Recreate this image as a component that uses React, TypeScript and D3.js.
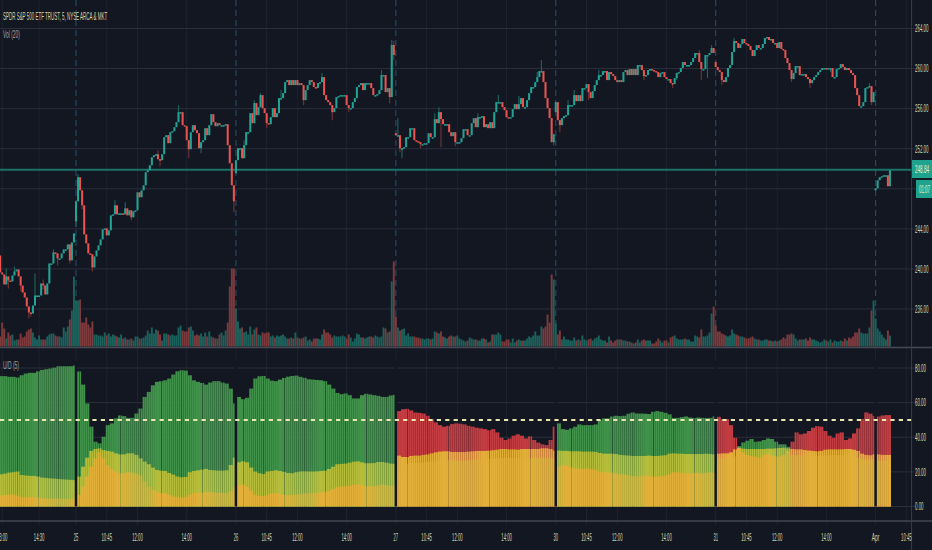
import React from "react";
import * as d3 from "d3";

const WIDTH = 932;
const HEIGHT = 550;

const priceTicks = [264, 260, 256, 252, 248, 244, 240, 236];
const udTicks = [80, 60, 40, 20, 0];
const timeLabels = ["13:00","14:30","25","10:45","12:00","14:00","26","10:45","12:00","14:00","27","10:45","12:00","14:00","30","10:45","12:00","14:00","31","10:45","12:00","14:00","Apr","10:45"];
const timeBars = [1,19,37,52,67,91,115,130,145,169,193,208,223,247,271,286,301,325,349,364,379,403,427,442];
const dayStarts = [37,115,193,271,349,427];
const dayOpens = [244.75,249.55,253.55,255.65,260.65,247.85];
const firstOpen = 241.35;

const closesMar23 = [239.65,239.45,238.45,239.25,238.85,238.75,239.35,239.75,239.95,239.25,238.35,237.65,237.15,236.25,235.65,235.55,236.35,237.35,237.35,237.35,238.55,238.35,237.45,238.55,240.55,240.55,241.65,241.55,241.05,241.05,241.55,241.95,241.95,242.45,240.85,242.65,243.55];
const closesMar25 = [246.75,249.15,247.85,246.35,243.45,242.55,241.55,241.45,240.15,241.25,241.85,242.35,242.95,243.95,244.05,243.35,243.85,245.35,245.45,246.35,245.45,245.55,245.55,245.45,246.05,245.35,245.85,245.15,245.75,245.85,247.65,247.15,247.85,248.35,249.65,249.85,250.35,251.15,251.35,251.45,250.95,250.85,251.45,253.15,253.35,252.55,253.65,253.75,254.15,254.65,255.65,255.65,254.35,254.25,252.85,251.95,253.65,254.35,253.85,253.55,252.05,252.65,252.85,254.05,253.35,254.35,255.45,254.65,254.25,254.55,254.35,254.35,254.35,254.45,252.35,250.55,248.35,246.75];
const closesMar26 = [250.85,252.05,252.05,251.05,252.35,253.65,253.65,255.55,254.55,256.55,255.35,256.15,257.35,256.05,255.55,254.55,254.45,255.15,256.05,255.15,255.55,257.05,257.05,257.55,258.65,258.85,258.35,258.85,258.35,258.85,258.35,258.55,258.35,256.85,257.85,258.35,258.85,258.65,258.15,258.05,258.55,258.65,259.15,257.35,256.85,256.65,256.35,255.65,256.05,257.15,257.25,257.35,257.35,257.35,256.35,256.05,256.05,256.65,257.05,258.15,258.35,258.55,257.85,258.55,258.55,258.55,258.05,257.35,257.35,257.45,257.85,259.35,259.35,257.65,258.05,257.15,262.35,261.35];
const closesMar27 = [253.35,253.35,252.05,252.05,252.15,253.15,253.15,254.05,254.05,252.85,252.75,252.65,252.45,252.45,252.55,252.55,253.55,253.15,253.15,254.95,254.55,255.65,254.95,254.45,254.45,254.45,253.65,253.25,253.65,252.65,252.65,252.65,253.05,253.95,253.95,253.35,253.35,254.55,255.05,254.15,255.15,255.15,255.25,254.15,254.45,254.05,254.65,254.05,255.65,256.65,256.65,256.65,256.15,255.85,255.15,255.05,255.15,255.95,256.45,255.95,256.45,257.05,256.15,256.15,256.85,257.55,258.15,258.15,258.65,259.15,259.75,259.75,258.65,257.05,256.05,255.05,252.65,253.45];
const closesMar30 = [256.65,254.85,254.35,255.05,255.25,255.35,256.35,256.35,256.35,257.35,256.75,257.35,256.75,258.05,258.05,258.45,257.65,257.05,257.75,258.35,258.85,259.35,259.35,259.75,259.75,258.85,259.65,259.45,259.25,258.85,258.65,258.85,258.65,259.65,259.85,259.35,259.95,259.35,259.95,259.35,260.35,260.35,259.85,259.25,259.35,259.85,259.95,259.85,259.75,259.65,259.15,259.55,259.65,259.15,258.95,258.95,258.55,258.45,259.05,259.55,259.65,260.05,260.65,260.35,260.35,260.35,260.65,261.05,261.55,261.55,260.65,259.95,259.95,261.35,261.35,261.55,262.05,261.55];
const closesMar31 = [260.15,259.85,259.65,258.85,258.65,259.15,260.05,260.35,261.65,262.75,262.55,262.05,262.45,262.95,262.55,262.45,262.25,261.85,261.25,261.85,262.35,262.05,262.05,262.45,263.05,263.15,262.85,262.95,262.55,262.55,262.05,262.65,261.95,261.85,261.05,260.55,259.85,258.95,259.55,260.25,260.25,259.35,259.45,259.45,259.15,258.95,258.55,258.85,259.15,259.35,259.65,259.85,260.05,260.05,259.95,260.05,260.05,259.15,259.15,259.95,260.05,260.45,260.15,259.85,260.05,259.85,259.55,259.35,258.05,257.35,256.25,256.25,256.65,258.05,258.15,258.25,256.65,257.65];
const closesApr2 = [248.05,248.85,249.15,249.25,249.35,249.35,248.25,249.85];

const volumes = [10,24,18,8,14,11,12,6,7,7,13,9,10,15,17,18,14,9,7,11,7,7,7,10,12,13,13,11,10,10,9,19,15,20,27,36,70,46,46,47,24,24,29,22,19,25,12,12,11,11,10,14,11,13,10,12,11,10,9,12,8,9,7,7,8,6,10,10,8,8,9,11,16,13,19,13,17,16,12,6,13,13,12,11,12,11,11,19,21,16,15,15,19,20,16,11,12,11,13,10,14,10,15,10,9,8,8,12,14,11,16,24,60,78,78,38,25,18,19,14,15,12,20,12,17,19,12,11,14,13,14,14,10,11,9,11,10,11,12,10,8,8,9,8,14,9,8,8,9,10,6,7,5,8,8,8,7,12,17,14,14,12,9,11,10,10,10,11,10,8,12,9,5,8,13,12,9,9,8,9,10,10,9,11,10,9,10,19,18,14,15,65,85,30,19,16,17,18,11,13,10,10,10,9,9,8,8,7,8,8,7,8,15,14,13,15,10,9,8,10,11,10,10,11,8,7,6,5,6,9,8,7,7,6,6,8,8,7,4,5,12,12,12,14,12,5,5,7,7,4,8,4,6,7,6,6,6,8,10,9,11,15,11,11,20,18,20,32,24,72,67,23,12,16,7,10,7,7,6,6,9,6,7,6,11,7,6,7,8,6,8,9,11,7,6,6,4,10,6,4,6,7,7,7,6,6,5,5,4,3,4,7,4,6,7,6,6,6,3,3,5,8,6,4,6,6,4,9,10,11,8,7,7,7,8,7,7,5,5,11,10,9,17,10,10,11,14,33,40,21,15,15,13,12,11,10,11,17,13,12,11,10,10,9,8,8,9,10,8,7,7,6,6,7,7,6,6,5,6,5,6,7,9,8,12,12,13,12,8,6,7,7,7,8,6,9,7,7,6,5,4,5,7,6,5,7,4,6,5,5,6,5,8,6,9,8,10,14,14,18,14,13,13,13,19,36,46,28,18,15,12,9,7,16,11];

const wickBars =  [3,4,7,10,14,15,17,21,26,28,34,37,38,40,45,56,61,64,77,78,87,92,98,114,119,124,127,130,137,148,157,162,170,186,190,191,192,194,195,196,205,212,214,215,222,233,243,253,262,264,270,273,277,280,287,292,314,328,330,341,342,345,347,352,358,386,395,405,424,425];
const wickHighs = [240.05,0,240.25,0,0,0,239.55,238.95,241.95,0,0,0,249.45,0,0,246.85,246.65,0,251.85,0,256.35,0,0,0,252.85,256.85,257.55,0,257.85,0,259.55,0,0,259.85,0,262.85,262.75,255.05,0,0,0,255.55,256.15,0,0,255.55,257.35,257.25,259.65,260.85,0,0,256.85,257.85,0,259.85,0,0,0,261.85,0,0,262.35,0,263.05,0,0,0,258.55,0];
const wickLows =  [0,238.05,0,237.75,235.05,235.25,0,237.95,0,240.35,240.55,244.15,0,245.95,239.75,0,0,244.85,0,250.25,0,251.05,251.55,245.65,0,0,0,254.05,0,256.35,0,254.85,255.65,0,256.55,0,260.85,0,251.65,251.05,252.05,0,0,252.15,252.25,0,0,0,0,0,252.35,253.65,0,0,256.85,0,258.85,258.05,258.85,0,258.85,259.05,0,258.35,0,258.65,258.05,259.65,0,256.35];

// U/D values, one reading per two bars
const udTotal = [75.3,75.3,74.9,74.9,74.5,75.8,76.8,77.2,77.2,78.1,78.9,79.3,79.7,80.2,81,81,81,81,81.4,
  78,70.4,59.5,46.1,37.4,36.5,40.3,47,48,50.9,52.6,52.2,51.2,51.2,53.7,56.6,63.3,66.2,70,72,72.4,72.9,73.9,76.2,78.1,78.7,78.5,75.8,72.9,72,71.4,70.4,71.6,72.4,72.4,71.6,71,68.1,59.5,
  63.3,62,62.8,68.1,73.9,75.2,75.4,73.9,72.7,72.4,73.3,74.3,75,75.4,75.6,74.9,74.3,73.5,73.3,73.1,
  72.9,72.4,70.4,68.1,65.6,64.9,65.3,64.3,62.4,62.4,64.3,65.1,64.7,64.3,63.9,63.3,63.3,64.1,64.5,
  55.1,56.2,56.4,55.5,54.3,54.1,53.7,52.4,50.5,48.6,47,46.1,46.6,47.6,48,47.8,47.4,46.6,46.1,45.5,45.1,44.7,44,44.7,42.8,39.7,38.4,39.3,40.9,41.7,40.9,39.3,40.5,38.4,36.9,35.9,35.5,38.4,46.1,
  48,44.7,44.3,45.1,46.1,47.4,47,47,47,47.4,49.9,50.9,50.9,52,52.4,52.2,52.4,53.6,54.3,53.7,53.7,53.6,53.4,54.7,55.1,54.7,54.1,53.2,51.2,51.2,51.6,52,51.4,51.1,51.4,51.2,51.1,51.2,52,
  51.8,50.5,50.5,47,39.7,34.9,37,38,39,37.4,37.6,38.4,39.3,39,37.4,35.9,35.9,34.5,37.4,42.8,41.7,42.2,43.6,45.5,46.4,46.1,43.6,40.9,39.7,42.2,42.8,38.4,39.3,42.2,45.1,50.5,54.3,53.6,52.2,
  52,52.6,52.8,52.8];
const udUpper = [18.6,19,19.6,19.8,20.2,18.2,17.9,17.7,17.7,17.3,16.7,16.5,16.3,16.1,15.9,15.7,15.5,15.4,15.2,
  17.3,23,28.2,32.1,33.2,33.6,32.6,32.1,31.7,30.7,30.1,30.1,30.7,30.7,29.8,27.8,25.9,24.4,22.5,21.1,20.7,20.5,19.4,18.4,17.3,16.9,17.1,19.8,20.5,20.9,21.3,21.7,21.1,20.9,20.7,20.7,20.9,24,28.2,
  25.5,26.1,25.5,22.5,20.2,19.2,18.8,20.2,20.5,20.9,20.5,20,19.4,19.2,19.8,20.2,20.3,20.2,20.2,20.3,
  20.5,20.7,21.7,23,24.4,24.6,24.8,25.3,25.9,26.1,25.5,25,25,25.1,25.7,25.7,25.3,24.8,24.6,
  24.1,24.3,24.6,25,25.2,25.1,25.4,25.8,26,26.3,26.7,26.9,26.8,26.6,26.7,26.5,26.4,26.8,27,27.2,27.1,27.3,27.5,27.6,27.9,28.1,28.2,28.1,28,27.9,28,28.1,28,28.1,28,28.2,28.1,27.9,27.5,
  32.3,32.1,32.1,31.9,31.9,31.9,31.7,31.7,31.7,31.5,30.9,30.5,30.5,30.5,30.3,29.8,29.6,29.4,29.2,29.2,29.2,29.2,29.4,29.2,29.2,29.4,29.6,30.5,30.7,30.5,30.5,30.3,30.3,30.3,30.3,30.3,30.5,30.3,30.1,
  27.8,27.5,27.6,28,28.9,34,33.4,33.2,33.2,33.2,33.2,33.2,33.4,33.4,33.6,33.8,34,33.6,29.8,29.6,29.7,29.5,29.4,29.3,29.2,29.3,29.5,29.6,29.7,29.6,29.5,29.4,29.2,28.8,28.2,27.6,27.1,27,27.3,
  26.5,26.4,26.5,26.4];
const udLower = [6.3,6.7,6.7,6.9,6.3,5.4,5.4,5.4,5.4,5.2,4.8,4.6,4.6,4.6,4.6,4.6,4.4,4.4,4.2,
  6.7,11.5,17.3,23,27.8,31.3,27.8,23.6,21.7,20.2,19.2,19.2,19.8,19.6,19.2,17.9,14.4,11.5,9.6,8.3,7.7,7.7,6.7,5.8,5.4,5.2,5.4,6.7,7.7,7.9,7.9,8.4,8.4,8.1,7.9,7.9,7.7,9,10.9,
  12.5,12.7,11.5,9.2,6.7,6.1,6.1,6.7,7.7,7.9,7.3,6.7,6.5,6.7,6.9,7.3,7.5,7.7,7.9,7.9,
  8.1,8.4,9,10,11.1,11.5,11.7,11.9,12.5,12.9,12.5,11.7,11.7,11.7,12.1,12.7,12.3,11.9,11.7,
  29.4,28.6,28.6,29.2,29.4,29.4,29.8,30.1,30.7,31.3,31.7,31.9,31.9,31.5,31.5,31.5,31.5,31.7,31.9,32.1,32.1,32.1,32.3,32.5,32.8,33.2,33.2,33,33,32.8,33.2,33.2,33.2,33.2,33.2,33.6,33.6,33.2,32.3,
  23,24,23.6,22.6,21.9,21.9,21.7,21.9,21.7,21.1,20.2,19.8,19.6,19.6,19.2,18.6,18.6,18.2,17.5,17.5,17.7,17.7,17.5,17.3,17.3,17.5,17.9,18.6,19.8,19.8,19.2,19.2,19,19.4,19.4,19,19.4,19.8,19.4,
  30.5,30.7,30.7,31.3,33,33.6,31.3,29.8,29.2,28.8,28.2,29.8,30.3,29.4,28.9,28.9,29.8,32.1,33.2,33,33,32.6,32.3,32.1,31.9,32.1,32.8,33,33,33,33,33.2,33.2,32.8,32.1,30.5,29.8,29.6,30.1,
  30.1,29.8,29.8,29.8];

const BG = "#131722";
const TEXT = "#d9d6a6";
const FONT = "'Liberation Sans', Arial, sans-serif";
const closes = [...closesMar23, ...closesMar25, ...closesMar26, ...closesMar27, ...closesMar30, ...closesMar31, ...closesApr2];
const lastPrice = closes[closes.length - 1];

const xScale = d3.scaleLinear().domain([37, 427]).range([76, 875.6]);
const yPrice = d3.scaleLinear().domain([236, 264]).range([309, 28.5]);
const yVol = d3.scaleLinear().domain([0, 100]).range([346.5, 246.5]);
const yUd = d3.scaleLinear().domain([0, 80]).range([506.5, 368]);

const measurer = document.createElement("canvas").getContext("2d") as CanvasRenderingContext2D;
function naturalWidth(text: string, size: number) {
  measurer.font = `${size}px ${FONT}`;
  return measurer.measureText(text).width;
}

function Label(p: { x: number; y: number; w: number; fill?: string; anchor?: string; size?: number; children: string }) {
  const size = p.size ?? 11;
  const sx = p.w / naturalWidth(p.children, size);
  return (
    <text transform={`translate(${p.x},${p.y + size * 0.35}) scale(${sx},1)`}
      textAnchor={p.anchor ?? "start"} fontFamily={FONT} fontSize={size}
      fill={p.fill ?? TEXT}>{p.children}</text>
  );
}

export default function App() {
  const bars = closes.map((c, i) => {
    const d = dayStarts.indexOf(i);
    const o = i === 0 ? firstOpen : d >= 0 ? dayOpens[d] : closes[i - 1];
    return { i, o, c, up: c >= o, x: xScale(i) };
  });
  const step = xScale(1) - xScale(0);

  return (
    <svg width={WIDTH} height={HEIGHT} viewBox={`0 0 ${WIDTH} ${HEIGHT}`}
      style={{ position: "fixed", left: 0, top: 0, display: "block", background: BG }}>
      <rect width={WIDTH} height={HEIGHT} fill={BG} />

      {/* time grid */}
      {timeBars.map((b, k) =>
        dayStarts.includes(b) ? null : (
          <line key={k} x1={xScale(b)} x2={xScale(b)} y1={0} y2={525} stroke="#1e222e" strokeWidth={1} />
        ))}
      {/* price & U/D grid */}
      {priceTicks.map((t) => (
        <line key={t} x1={0} x2={916} y1={yPrice(t)} y2={yPrice(t)} stroke="#2b2e3b" strokeWidth={1} />
      ))}
      {udTicks.map((t) => (
        <line key={t} x1={0} x2={916} y1={yUd(t)} y2={yUd(t)} stroke="#2b2e3b" strokeWidth={1} />
      ))}
      {/* session separators */}
      {dayStarts.map((b) => (
        <line key={b} x1={xScale(b)} x2={xScale(b)} y1={0} y2={346} stroke="#234863" strokeWidth={1.2} strokeDasharray="6 4" />
      ))}
      {dayStarts.map((b) => (
        <line key={b} x1={xScale(b)} x2={xScale(b)} y1={347} y2={525} stroke="#1e222e" strokeWidth={1} />
      ))}

      {/* volume */}
      {bars.map((b) => (
        <rect key={b.i} x={b.x - 0.97} width={1.94} y={yVol(volumes[b.i] ?? 0)} height={yVol(0) - yVol(volumes[b.i] ?? 0)}
          fill={b.up ? "#1c615c" : "#7d3a3d"} />
      ))}

      {/* last-price line */}
      <line x1={0} x2={912} y1={yPrice(lastPrice) - 0.5} y2={yPrice(lastPrice) - 0.5} stroke="#1b7268" strokeWidth={2} />

      {/* wicks */}
      {wickBars.map((b, k) => {
        const bar = bars[b];
        const top = wickHighs[k] || Math.max(bar.o, bar.c);
        const bot = wickLows[k] || Math.min(bar.o, bar.c);
        return <line key={k} x1={bar.x} x2={bar.x} y1={yPrice(top)} y2={yPrice(bot)} stroke={bar.up ? "#1e5f5a" : "#6a3236"} strokeWidth={1.2} />;
      })}
      {/* candle bodies */}
      {bars.map((b) => {
        const top = yPrice(Math.max(b.o, b.c));
        const bot = yPrice(Math.min(b.o, b.c));
        return <rect key={b.i} x={b.x - step / 2} width={step} y={top} height={Math.max(bot - top, 1.5)} fill={b.up ? "#22a394" : "#ea5450"} />;
      })}

      {/* U/D columns */}
      {bars.map((b) => {
        const s = Math.floor(b.i / 2);
        const t = udTotal[s], u = udUpper[s], l = udLower[s];
        const thin = b.i % 10 === 9;
        const w = thin ? 1.6 : step;
        const x = thin ? b.x - 0.6 : b.x - step / 2;
        return (
          <g key={b.i}>
            <rect x={x} width={w} y={yUd(t)} height={yUd(0) - yUd(t)} fill={u > l ? "#40914a" : "#c33c41"} />
            <rect x={x} width={w} y={yUd(u)} height={yUd(0) - yUd(u)} fill="#b6bd3a" />
            <rect x={x} width={w} y={yUd(l)} height={yUd(0) - yUd(l)} fill="#e2af38" />
          </g>
        );
      })}
      {/* empty U/D column at the start of each session */}
      {dayStarts.map((b) => (
        <rect key={b} x={xScale(b) - 1.25} width={2.5} y={yUd(84)} height={yUd(0) - yUd(84)} fill={BG} />
      ))}
      <line x1={0} x2={912} y1={yUd(50)} y2={yUd(50)} stroke="#e9e7ae" strokeWidth={2} strokeDasharray="4.2 4.2" />

      {/* frames */}
      <line x1={0} x2={WIDTH} y1={347.5} y2={347.5} stroke="#474a54" strokeWidth={1.5} />
      <line x1={0} x2={WIDTH} y1={521} y2={521} stroke="#5c5e66" strokeWidth={1} />
      <line x1={911.6} x2={911.6} y1={0} y2={HEIGHT} stroke="#3a3d49" strokeWidth={1} />

      {/* legends */}
      <Label x={3} y={16.5} w={105} size={10}>SPDR S&amp;P 500 ETF TRUST, 5, NYSE ARCA &amp; MKT</Label>
      <Label x={3} y={34} w={17} size={10} fill="#a5a6a8">Vol (20)</Label>
      <Label x={3} y={365} w={16} size={10} fill="#a5a6a8">U/D (5)</Label>

      {/* right axis */}
      {priceTicks.filter((t) => t !== 248).map((t) => (
        <Label key={t} x={915} y={yPrice(t)} w={13.5}>{t.toFixed(2)}</Label>
      ))}
      {udTicks.map((t) => (
        <Label key={t} x={915} y={yUd(t)} w={t === 0 ? 8.5 : 11}>{t.toFixed(2)}</Label>
      ))}
      <rect x={912} y={160} width={20} height={18} fill="#1fa38f" />
      <Label x={915} y={169} w={14} fill="#f2efc0">248.84</Label>
      <rect x={916} y={180} width={16} height={18} fill="#1fa38f" />
      <Label x={919} y={189} w={11} fill="#f2efc0">01:07</Label>

      {/* time axis */}
      {timeLabels.map((t, k) => (
        <Label key={k} x={xScale(timeBars[k])} y={537} w={t.length <= 2 ? 4.5 : t === "Apr" ? 7.6 : 10.5} anchor="middle">{t}</Label>
      ))}
    </svg>
  );
}
